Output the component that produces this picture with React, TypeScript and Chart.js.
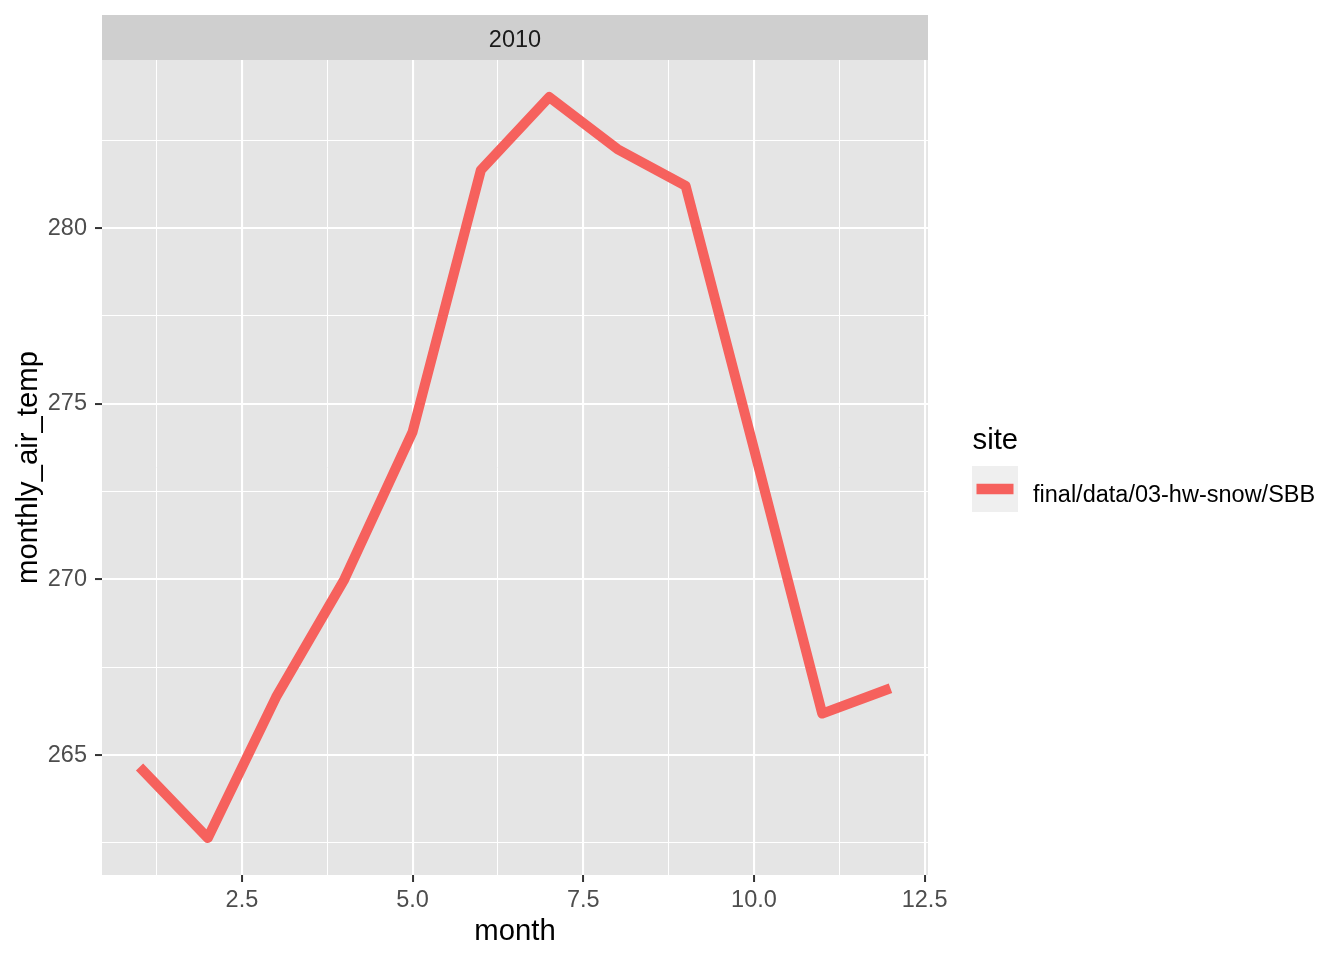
import React, { useEffect, useRef } from "react";
import { Chart, registerables } from "chart.js";

Chart.register(...registerables);

// ---- data ----
const months = [1, 2, 3, 4, 5, 6, 7, 8, 9, 10, 11, 12];
const monthlyAirTemp = [264.66, 262.64, 266.65, 270.0, 274.2, 281.65, 283.73, 282.25, 281.2, 273.72, 266.18, 266.9];
const seriesName = "final/data/03-hw-snow/SBB";
const facetLabel = "2010";
const legendTitle = "site";
const xTitle = "month";
const yTitle = "monthly_air_temp";

const xMajorValues = [2.5, 5, 7.5, 10, 12.5];
const xMajorLabels = ["2.5", "5.0", "7.5", "10.0", "12.5"];
const xMinorValues = [1.25, 3.75, 6.25, 8.75, 11.25];
const yMajorValues = [265, 270, 275, 280];
const yMajorLabels = ["265", "270", "275", "280"];
const yMinorValues = [262.5, 267.5, 272.5, 277.5, 282.5];

const LINE_COLOR = "#F6615D";
const FONT = "'Liberation Sans', Arial, Helvetica, sans-serif";

function expand(values: number[]) {
  const mn = Math.min(...values);
  const mx = Math.max(...values);
  const pad = (mx - mn) * 0.05;
  return [mn - pad, mx + pad];
}

export default function App() {
  const canvasRef = useRef<HTMLCanvasElement | null>(null);

  useEffect(() => {
    const canvas = canvasRef.current;
    if (!canvas) return;
    const [xMin, xMax] = expand(months);
    const [yMin, yMax] = expand(monthlyAirTemp);

    const decor = {
      id: "ggdecor",
      beforeDraw(chart: any) {
        const { ctx, chartArea } = chart;
        ctx.save();
        ctx.fillStyle = "#FFFFFF";
        ctx.fillRect(0, 0, chart.width, chart.height);
        ctx.fillStyle = "#E5E5E5";
        ctx.fillRect(chartArea.left, chartArea.top, chartArea.right - chartArea.left, chartArea.bottom - chartArea.top);
        // strip
        ctx.fillStyle = "#CFCFCF";
        ctx.fillRect(chartArea.left, 15, chartArea.right - chartArea.left, chartArea.top - 15);
        ctx.fillStyle = "#1A1A1A";
        ctx.font = `23.5px ${FONT}`;
        ctx.textAlign = "center";
        ctx.textBaseline = "alphabetic";
        ctx.fillText(facetLabel, (chartArea.left + chartArea.right) / 2, 46.7);
        ctx.restore();
      },
      afterDraw(chart: any) {
        const { ctx, chartArea } = chart;
        ctx.save();
        ctx.fillStyle = "#000000";
        ctx.font = `29.3px ${FONT}`;
        ctx.textAlign = "center";
        ctx.textBaseline = "alphabetic";
        ctx.fillText(xTitle, (chartArea.left + chartArea.right) / 2, 940);
        ctx.save();
        ctx.translate(37, (chartArea.top + chartArea.bottom) / 2);
        ctx.rotate(-Math.PI / 2);
        ctx.fillText(yTitle, 0, 0);
        ctx.restore();
        // legend
        ctx.textAlign = "left";
        ctx.fillText(legendTitle, 972.5, 449);
        ctx.fillStyle = "#EFEFEF";
        ctx.fillRect(972, 466, 46, 46);
        ctx.strokeStyle = LINE_COLOR;
        ctx.lineWidth = 10.5;
        ctx.lineCap = "butt";
        ctx.beginPath();
        ctx.moveTo(976.5, 489);
        ctx.lineTo(1013.5, 489);
        ctx.stroke();
        ctx.fillStyle = "#000000";
        ctx.font = `23.5px ${FONT}`;
        ctx.fillText(seriesName, 1033, 501.5);
        ctx.restore();
      },
    };

    const isMajor = (v: number, majors: number[]) => majors.some((m) => Math.abs(m - v) < 1e-6);

    const chart = new Chart(canvas, {
      type: "line",
      data: {
        datasets: [
          {
            label: seriesName,
            data: months.map((m, i) => ({ x: m, y: monthlyAirTemp[i] })),
            borderColor: LINE_COLOR,
            backgroundColor: LINE_COLOR,
            borderWidth: 10,
            borderJoinStyle: "round",
            borderCapStyle: "butt",
            pointRadius: 0,
            tension: 0,
            fill: false,
          },
        ],
      },
      options: {
        responsive: false,
        animation: false,
        devicePixelRatio: 1,
        layout: { padding: { top: 60, right: 416, left: 0, bottom: 0 } },
        plugins: { legend: { display: false }, tooltip: { enabled: false }, title: { display: false } },
        scales: {
          x: {
            type: "linear",
            min: xMin,
            max: xMax,
            afterBuildTicks: (scale: any) => {
              scale.ticks = [...xMajorValues, ...xMinorValues].sort((a, b) => a - b).map((v) => ({ value: v }));
            },
            afterFit: (scale: any) => {
              scale.height = 85;
            },
            border: { display: false },
            grid: {
              color: "#FFFFFF",
              lineWidth: (c: any) => (c.tick && isMajor(c.tick.value, xMajorValues) ? 2.1 : 1),
              drawTicks: true,
              tickLength: 7,
              tickWidth: 2,
              tickColor: (c: any) => (c.tick && isMajor(c.tick.value, xMajorValues) ? "#333333" : "rgba(0,0,0,0)"),
            },
            ticks: {
              autoSkip: false,
              maxRotation: 0,
              padding: 4,
              color: "#4D4D4D",
              font: { family: FONT, size: 23.5 },
              callback: (v: any) => {
                const i = xMajorValues.findIndex((m) => Math.abs(m - Number(v)) < 1e-6);
                return i >= 0 ? xMajorLabels[i] : "";
              },
            },
          },
          y: {
            type: "linear",
            min: yMin,
            max: yMax,
            afterBuildTicks: (scale: any) => {
              scale.ticks = [...yMajorValues, ...yMinorValues].sort((a, b) => a - b).map((v) => ({ value: v }));
            },
            afterFit: (scale: any) => {
              scale.width = 102;
            },
            border: { display: false },
            grid: {
              color: "#FFFFFF",
              lineWidth: (c: any) => (c.tick && isMajor(c.tick.value, yMajorValues) ? 2.1 : 1),
              drawTicks: true,
              tickLength: 7,
              tickWidth: 2,
              tickColor: (c: any) => (c.tick && isMajor(c.tick.value, yMajorValues) ? "#333333" : "rgba(0,0,0,0)"),
            },
            ticks: {
              autoSkip: false,
              padding: 8,
              color: "#4D4D4D",
              font: { family: FONT, size: 23.5 },
              callback: (v: any) => {
                const i = yMajorValues.findIndex((m) => Math.abs(m - Number(v)) < 1e-6);
                return i >= 0 ? yMajorLabels[i] : "";
              },
            },
          },
        },
      },
      plugins: [decor],
    } as any);

    return () => chart.destroy();
  }, []);

  return (
    <div style={{ position: "absolute", left: 0, top: 0, width: 1344, height: 960 }}>
      <canvas ref={canvasRef} width={1344} height={960} style={{ display: "block", width: 1344, height: 960 }} />
    </div>
  );
}
